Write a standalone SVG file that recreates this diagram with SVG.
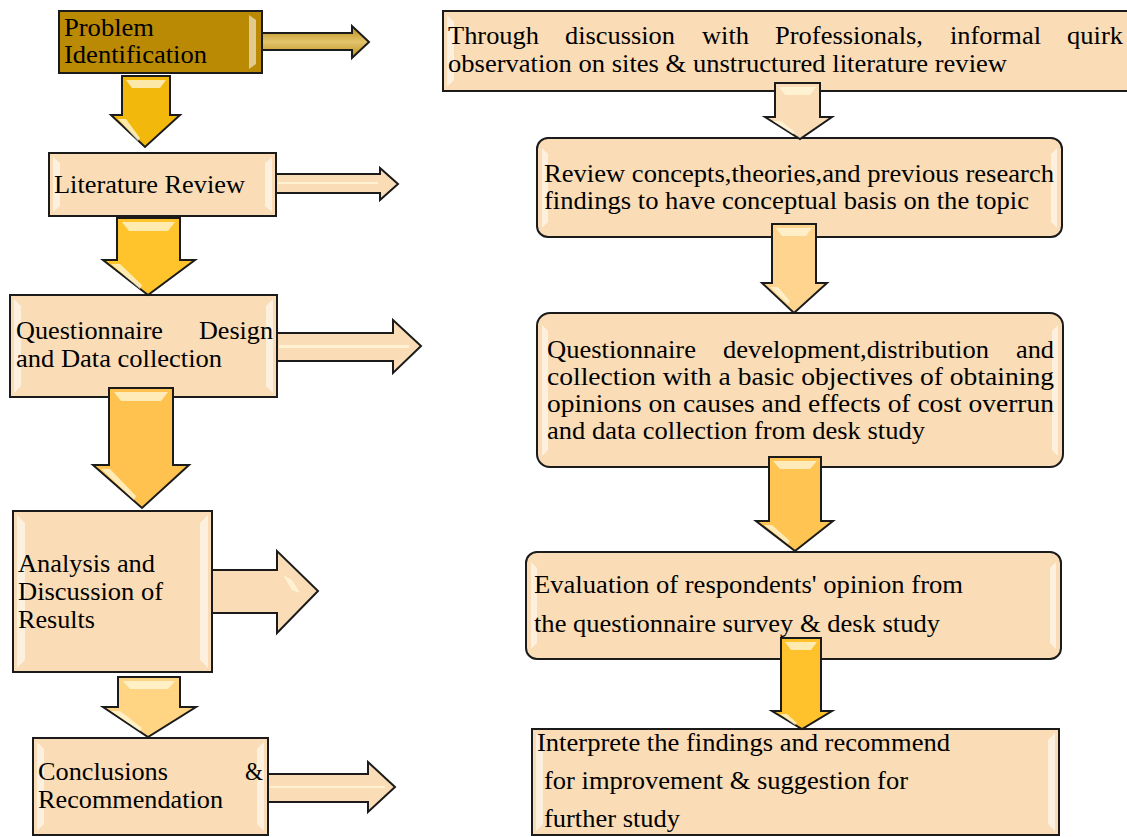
<svg xmlns="http://www.w3.org/2000/svg" width="1127" height="837" viewBox="0 0 1127 837">
<style>
.box{fill:#FADDB6;stroke:#1b1b1b;stroke-width:2}
.gold{fill:#BA8A04}
.L{font-size:26px}
.R{font-size:24.5px}
.arr{stroke:#1b1b1b;stroke-width:2;stroke-linejoin:miter}
.bev{fill:#fff;opacity:.55}
.hl{fill:#FFF8DC;opacity:.75}
.peach{fill:#FADDB6}
</style>
<defs>
<linearGradient id="gA1" x1="0" y1="0" x2="0" y2="1">
<stop offset="0" stop-color="#B98A10"/><stop offset=".5" stop-color="#E2C46E"/><stop offset="1" stop-color="#B98A10"/>
</linearGradient>
</defs>
<rect width="1127" height="837" fill="#fff"/>

<g id="n-problem" font-family="Liberation Serif, Times New Roman, serif">
<rect class="box gold" x="59" y="11" width="203" height="62"/>
<polygon class="bev" points="249,15 256,20 256,64 249,69" opacity=".35"/>
<text class="L" font-family="Liberation Serif, serif" x="64" y="36" textLength="90" lengthAdjust="spacingAndGlyphs">Problem</text>
<text class="L" font-family="Liberation Serif, serif" x="64" y="63" textLength="143" lengthAdjust="spacingAndGlyphs">Identification</text>
</g>

<g id="n-literature" font-family="Liberation Serif, Times New Roman, serif">
<rect class="box" x="49" y="153" width="227" height="63"/>
<polygon class="bev" points="53,157 60,163 60,206 53,212"/>
<polygon class="bev" points="272,157 265,163 265,206 272,212"/>
<text class="L" font-family="Liberation Serif, serif" x="54" y="193" textLength="191" lengthAdjust="spacingAndGlyphs">Literature Review</text>
</g>

<g id="n-questionnaire" font-family="Liberation Serif, Times New Roman, serif">
<rect class="box" x="10" y="295" width="267" height="102"/>
<polygon class="bev" points="14,299 21,306 21,386 14,393"/>
<polygon class="bev" points="273,299 266,306 266,386 273,393"/>
<text class="L" font-family="Liberation Serif, serif" y="339"><tspan x="16" textLength="147" lengthAdjust="spacingAndGlyphs">Questionnaire</tspan><tspan x="199" textLength="74" lengthAdjust="spacingAndGlyphs">Design</tspan></text>
<text class="L" font-family="Liberation Serif, serif" x="16" y="367" textLength="206" lengthAdjust="spacingAndGlyphs">and Data collection</text>
</g>

<g id="n-analysis" font-family="Liberation Serif, Times New Roman, serif">
<rect class="box" x="13" y="511" width="199" height="161"/>
<polygon class="bev" points="17,515 25,523 25,660 17,668"/>
<polygon class="bev" points="208,515 200,523 200,660 208,668"/>
<text class="L" font-family="Liberation Serif, serif" x="18" y="572" textLength="137" lengthAdjust="spacingAndGlyphs">Analysis and</text>
<text class="L" font-family="Liberation Serif, serif" x="18" y="600" textLength="145" lengthAdjust="spacingAndGlyphs">Discussion of</text>
<text class="L" font-family="Liberation Serif, serif" x="18" y="628" textLength="77" lengthAdjust="spacingAndGlyphs">Results</text>
</g>

<g id="n-conclusions" font-family="Liberation Serif, Times New Roman, serif">
<rect class="box" x="33" y="738" width="235" height="97"/>
<polygon class="bev" points="37,742 44,749 44,824 37,831"/>
<polygon class="bev" points="264,742 257,749 257,824 264,831"/>
<text class="L" font-family="Liberation Serif, serif" y="780"><tspan x="38" textLength="130" lengthAdjust="spacingAndGlyphs">Conclusions</tspan><tspan x="245" textLength="18" lengthAdjust="spacingAndGlyphs">&amp;</tspan></text>
<text class="L" font-family="Liberation Serif, serif" x="38" y="808" textLength="185" lengthAdjust="spacingAndGlyphs">Recommendation</text>
</g>

<g id="n-r1" font-family="Liberation Serif, Times New Roman, serif">
<rect class="box" x="443" y="11" width="695" height="80"/>
<polygon class="bev" points="447,15 454,22 454,80 447,87"/>
<text class="R" font-family="Liberation Serif, serif" y="44"><tspan x="448" textLength="91" lengthAdjust="spacingAndGlyphs">Through</tspan><tspan x="565" textLength="110" lengthAdjust="spacingAndGlyphs">discussion</tspan><tspan x="702" textLength="47" lengthAdjust="spacingAndGlyphs">with</tspan><tspan x="775" textLength="148" lengthAdjust="spacingAndGlyphs">Professionals,</tspan><tspan x="950" textLength="91" lengthAdjust="spacingAndGlyphs">informal</tspan><tspan x="1067" textLength="56" lengthAdjust="spacingAndGlyphs">quirk</tspan></text>
<text class="R" font-family="Liberation Serif, serif" x="448" y="72" textLength="559" lengthAdjust="spacingAndGlyphs">observation on sites &amp; unstructured literature review</text>
</g>

<g id="n-r2" font-family="Liberation Serif, Times New Roman, serif">
<rect class="box" x="537" y="138" width="525" height="99" rx="11"/>
<polygon class="bev" points="542,148 548,154 548,222 542,228"/>
<polygon class="bev" points="1057,148 1051,154 1051,222 1057,228"/>
<text class="R" font-family="Liberation Serif, serif" x="544" y="182" textLength="510" lengthAdjust="spacingAndGlyphs">Review concepts,theories,and previous research</text>
<text class="R" font-family="Liberation Serif, serif" x="544" y="209" textLength="485" lengthAdjust="spacingAndGlyphs">findings to have conceptual basis on the topic</text>
</g>

<g id="n-r3" font-family="Liberation Serif, Times New Roman, serif">
<rect class="box" x="537" y="313" width="526" height="154" rx="13"/>
<polygon class="bev" points="542,325 548,331 548,450 542,456"/>
<polygon class="bev" points="1058,325 1052,331 1052,450 1058,456"/>
<text class="R" font-family="Liberation Serif, serif" y="358"><tspan x="547" textLength="149" lengthAdjust="spacingAndGlyphs">Questionnaire</tspan><tspan x="723" textLength="266" lengthAdjust="spacingAndGlyphs">development,distribution</tspan><tspan x="1016" textLength="38" lengthAdjust="spacingAndGlyphs">and</tspan></text>
<text class="R" font-family="Liberation Serif, serif" x="547" y="385" textLength="507" lengthAdjust="spacingAndGlyphs">collection with a basic objectives of obtaining</text>
<text class="R" font-family="Liberation Serif, serif" x="547" y="412" textLength="507" lengthAdjust="spacingAndGlyphs">opinions on causes and effects of cost overrun</text>
<text class="R" font-family="Liberation Serif, serif" x="547" y="439" textLength="378" lengthAdjust="spacingAndGlyphs">and data collection from desk study</text>
</g>

<g id="n-r4" font-family="Liberation Serif, Times New Roman, serif">
<rect class="box" x="526" y="552" width="535" height="107" rx="11"/>
<polygon class="bev" points="531,562 537,568 537,643 531,649"/>
<polygon class="bev" points="1056,562 1050,568 1050,643 1056,649"/>
<text class="R" font-family="Liberation Serif, serif" x="534" y="593" textLength="429" lengthAdjust="spacingAndGlyphs">Evaluation of respondents' opinion from</text>
<text class="R" font-family="Liberation Serif, serif" x="534" y="632" textLength="406" lengthAdjust="spacingAndGlyphs">the questionnaire survey &amp; desk study</text>
</g>

<g id="n-r5" font-family="Liberation Serif, Times New Roman, serif">
<rect class="box" x="532" y="729" width="527" height="106"/>
<polygon class="bev" points="536,733 543,740 543,824 536,831"/>
<polygon class="bev" points="1055,733 1048,740 1048,824 1055,831"/>
<text class="R" font-family="Liberation Serif, serif" x="537" y="751" textLength="413" lengthAdjust="spacingAndGlyphs">Interprete the findings and recommend</text>
<text class="R" font-family="Liberation Serif, serif" x="544" y="789" textLength="364" lengthAdjust="spacingAndGlyphs">for improvement &amp; suggestion for</text>
<text class="R" font-family="Liberation Serif, serif" x="544" y="827" textLength="136" lengthAdjust="spacingAndGlyphs">further study</text>
</g>

<g id="connectors">
<path class="arr" fill="url(#gA1)" d="M262,33 L352,33 L352,26 L369,42 L352,58 L352,50 L262,50 Z"/>
<path class="arr peach" d="M276,174 L380,174 L380,168 L398,184 L380,200 L380,193 L276,193 Z"/>
<rect class="hl" x="278" y="182" width="100" height="2"/>
<path class="arr peach" d="M277,333 L393,333 L393,320 L421,346 L393,373 L393,361 L277,361 Z"/>
<rect class="hl" x="279" y="345" width="130" height="3"/>
<path class="arr peach" d="M212,570 L277,570 L277,551 L318,591 L277,633 L277,613 L212,613 Z"/>
<polygon class="hl" points="283,575 292,580 300,593 292,590"/>
<path class="arr peach" d="M268,774 L368,774 L368,762 L395,787 L368,812 L368,802 L268,802 Z"/>
<rect class="hl" x="270" y="786" width="115" height="2"/>

<path class="arr" fill="#F2B80C" d="M122,76 L170,76 L170,115 L180,115 L145,147 L111,115 L122,115 Z"/>
<polygon class="hl" points="126,80 166,80 160,88 132,88"/>
<polygon class="hl" points="118,119 126,119 140,138 138,141"/>
<path class="arr" fill="#FFC32C" d="M117,218 L180,218 L180,260 L195,260 L148,295 L103,260 L117,260 Z"/>
<polygon class="hl" points="122,222 175,222 168,231 129,231"/>
<polygon class="hl" points="111,264 120,264 142,285 140,289"/>
<path class="arr" fill="#FFC24E" d="M109,388 L173,388 L173,465 L189,465 L142,508 L93,465 L109,465 Z"/>
<polygon class="hl" points="114,392 168,392 161,401 121,401"/>
<polygon class="hl" points="101,469 110,469 136,496 134,500"/>
<path class="arr" fill="#FFD584" d="M118,677 L180,677 L180,707 L196,707 L148,737 L103,707 L118,707 Z"/>
<polygon class="hl" points="123,681 175,681 168,689 130,689"/>
<polygon class="hl" points="111,711 120,711 142,728 140,731"/>

<path class="arr peach" d="M775,83 L820,83 L820,117 L832,117 L800,139 L765,117 L775,117 Z"/>
<polygon class="hl" points="779,87 816,87 810,95 785,95"/>
<polygon class="hl" points="773,121 781,121 795,132 793,134"/>
<path class="arr" fill="#FFD48E" d="M772,224 L816,224 L816,283 L827,283 L794,313 L762,283 L772,283 Z"/>
<polygon class="hl" points="776,228 812,228 806,236 782,236"/>
<polygon class="hl" points="770,287 778,287 790,301 788,304"/>
<path class="arr" fill="#FFC452" d="M769,457 L821,457 L821,521 L833,521 L795,551 L756,521 L769,521 Z"/>
<polygon class="hl" points="773,461 817,461 810,469 780,469"/>
<polygon class="hl" points="764,525 772,525 790,541 788,544"/>
<path class="arr" fill="#FFC12C" d="M781,638 L821,638 L821,711 L832,711 L802,729 L772,711 L781,711 Z"/>
<polygon class="hl" points="785,642 817,642 811,650 791,650"/>
<polygon class="hl" points="780,714 787,714 797,723 795,725"/>
</g>
</svg>
